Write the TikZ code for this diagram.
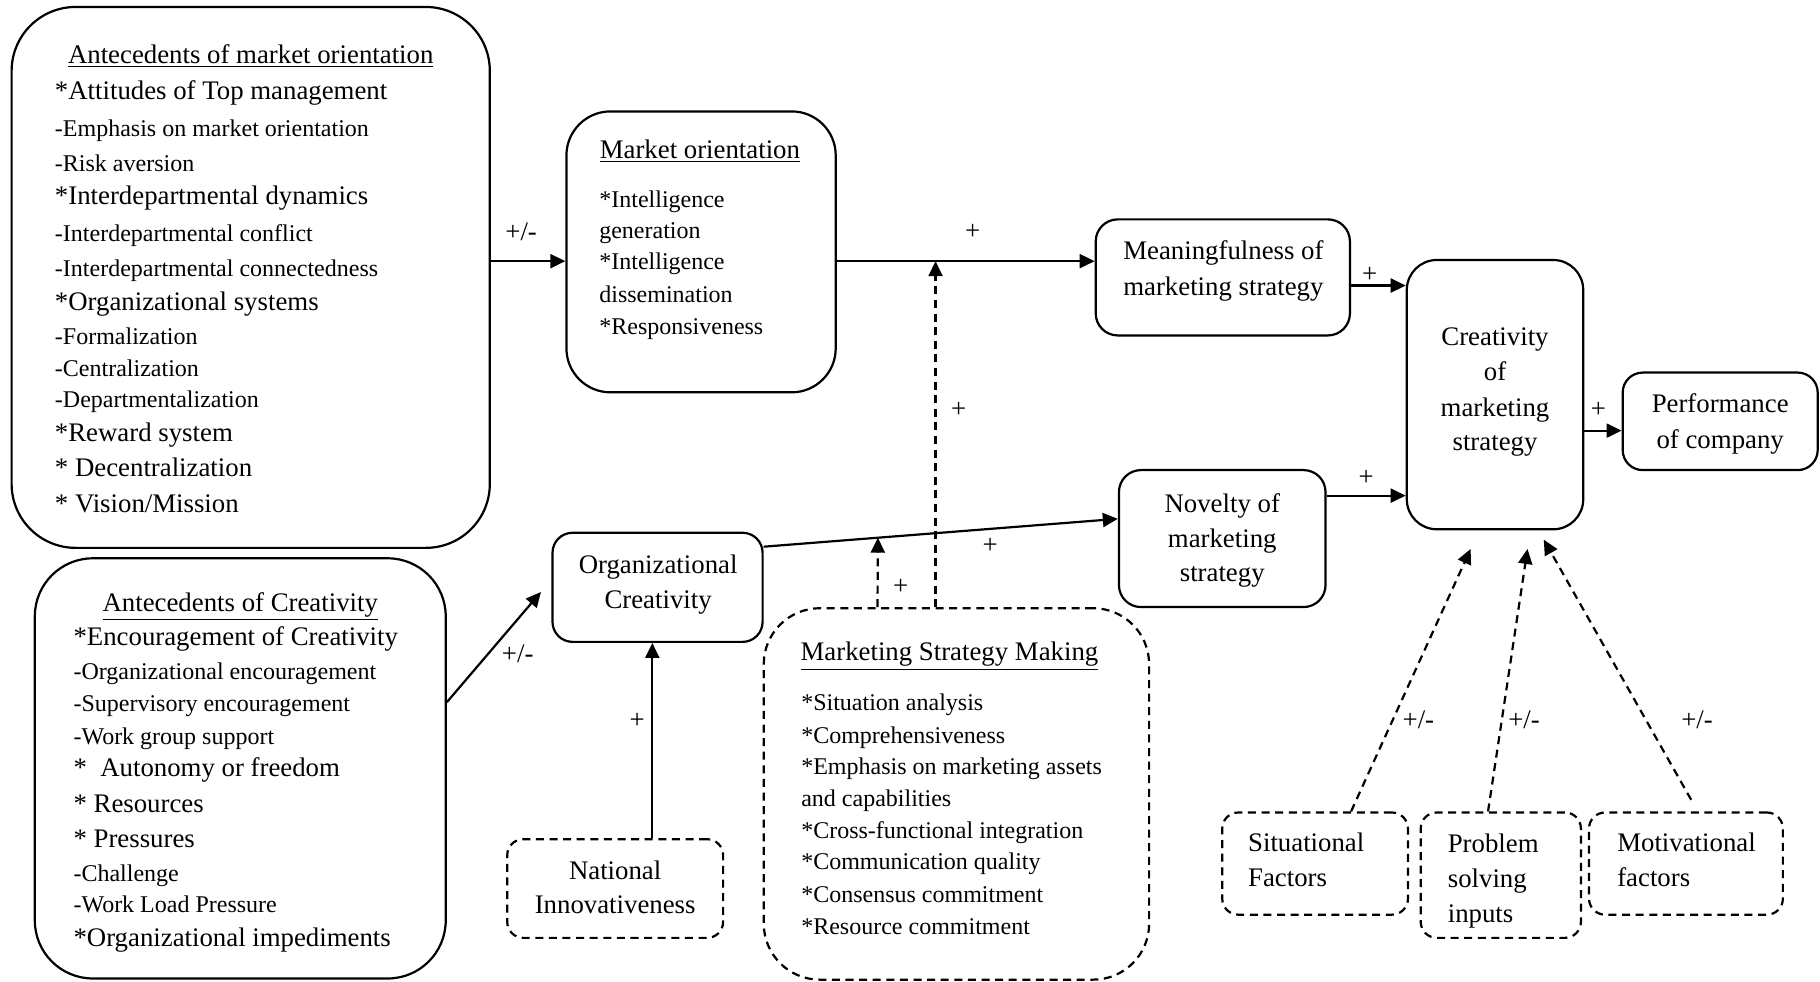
\documentclass[tikz,border=0pt]{standalone}
\usepackage{fontspec}
\setmainfont{Liberation Serif}
\usetikzlibrary{arrows.meta,fit,calc}
\begin{document}
\begin{tikzpicture}[x=0.58035pt,y=-0.58035pt,
  box/.style={draw, line width=1.1pt, inner sep=0pt},
  dbox/.style={box, dash pattern=on 4pt off 2.8pt},
  arr/.style={line width=1.1pt, -{Triangle[length=7.5pt,width=7pt]}},
  darr/.style={arr, dash pattern=on 4pt off 2.8pt},
  big/.style={font=\fontsize{13.4}{16}\selectfont},
  small/.style={font=\fontsize{12}{14}\selectfont},
  L/.style={inner sep=0pt, anchor=base west, yshift=-4.3pt},
  C/.style={inner sep=0pt, anchor=base, yshift=-4.3pt},
  lab/.style={inner sep=0pt, font=\fontsize{13.4}{16}\selectfont}
]
\useasboundingbox (0,0) rectangle (1568,846);

% ---------- boxes ----------
\node[box, rounded corners=32pt, fit={(10,6) (422,472)}] (A) {};
\node[box, rounded corners=29pt, fit={(30,481) (384,843)}] (B) {};
\node[box, rounded corners=22pt, fit={(488,96) (720,338)}] (MO) {};
\node[box, rounded corners=11pt, fit={(944,189) (1163,289)}] (MF) {};
\node[box, rounded corners=15pt, fit={(1212,224) (1364,456)}] (CR) {};
\node[box, rounded corners=11pt, fit={(964,405) (1142,523)}] (NV) {};
\node[box, rounded corners=10pt, fit={(1398,321) (1566,405)}] (PF) {};
\node[box, rounded corners=10pt, fit={(476,459) (657,553)}] (OC) {};
\node[dbox, rounded corners=8pt, fit={(437,723) (623,808)}] (NI) {};
\node[dbox, rounded corners=28pt, fit={(658,524) (990,844)}] (MSM) {};
\node[dbox, rounded corners=8pt, fit={(1053,700) (1213,788)}] (SF) {};
\node[dbox, rounded corners=8pt, fit={(1224,700) (1362,808)}] (PS) {};
\node[dbox, rounded corners=8pt, fit={(1369,700) (1536,788)}] (MV) {};

% ---------- texts: antecedents of market orientation ----------
\node[C,big] (At) at (216,47) {\underline{Antecedents of market orientation}};
\node[L,big]   (A1)  at (47,78)  {*Attitudes of Top management};
\node[L,small] (A2)  at (47,110) {-Emphasis on market orientation};
\node[L,small] (A3)  at (47,140) {-Risk aversion};
\node[L,big]   (A4)  at (47,169) {*Interdepartmental dynamics};
\node[L,small] (A5)  at (47,201) {-Interdepartmental conflict};
\node[L,small] (A6)  at (47,231) {-Interdepartmental connectedness};
\node[L,big]   (A7)  at (47,260) {*Organizational systems};
\node[L,small] (A8)  at (47,289) {-Formalization};
\node[L,small] (A9)  at (47,317) {-Centralization};
\node[L,small] (A10) at (47,344) {-Departmentalization};
\node[L,big]   (A11) at (47,373) {*Reward system};
\node[L,big]   (A12) at (47,403) {* Decentralization};
\node[L,big]   (A13) at (47,434) {* Vision/Mission};

% ---------- texts: antecedents of creativity ----------
\node[C,big] (Bt) at (207,519) {\underline{Antecedents of Creativity}};
\node[L,big]   (B1)  at (63,549) {*Encouragement of Creativity};
\node[L,small] (B2)  at (63,578) {-Organizational encouragement};
\node[L,small] (B3)  at (63,606) {-Supervisory encouragement};
\node[L,small] (B4)  at (63,634) {-Work group support};
\node[L,big]   (B5)  at (63,662) {*\ \ Autonomy or freedom};
\node[L,big]   (B6)  at (63,693) {* Resources};
\node[L,big]   (B7)  at (63,723) {* Pressures};
\node[L,small] (B8)  at (63,752) {-Challenge};
\node[L,small] (B9)  at (63,779) {-Work Load Pressure};
\node[L,big]   (B10) at (63,808) {*Organizational impediments};

% ---------- texts: market orientation ----------
\node[C,big] (MOt) at (603,129) {\underline{Market orientation}};
\node[L,small] (MO1) at (516,171) {*Intelligence};
\node[L,small] (MO2) at (516,198) {generation};
\node[L,small] (MO3) at (516,225) {*Intelligence};
\node[L,small] (MO4) at (516,253) {dissemination};
\node[L,small] (MO5) at (516,281) {*Responsiveness};

% ---------- texts: marketing strategy making ----------
\node[C,big] (Mt) at (818,562) {\underline{Marketing Strategy Making}};
\node[L,small] (M1) at (690,605) {*Situation analysis};
\node[L,small] (M2) at (690,633) {*Comprehensiveness};
\node[L,small] (M3) at (690,660) {*Emphasis on marketing assets};
\node[L,small] (M4) at (690,687) {and capabilities};
\node[L,small] (M5) at (690,715) {*Cross-functional integration};
\node[L,small] (M6) at (690,742) {*Communication quality};
\node[L,small] (M7) at (690,770) {*Consensus commitment};
\node[L,small] (M8) at (690,798) {*Resource commitment};

% ---------- texts: other boxes ----------
\node[C,big] (MF1) at (1054,216) {Meaningfulness of};
\node[C,big] (MF2) at (1054,247) {marketing strategy};
\node[C,big] (CR1) at (1288,290) {Creativity};
\node[C,big] (CR2) at (1288,320) {of};
\node[C,big] (CR3) at (1288,351) {marketing};
\node[C,big] (CR4) at (1288,381) {strategy};
\node[C,big] (NV1) at (1053,434) {Novelty of};
\node[C,big] (NV2) at (1053,464) {marketing};
\node[C,big] (NV3) at (1053,494) {strategy};
\node[C,big] (PF1) at (1482,348) {Performance};
\node[C,big] (PF2) at (1482,379) {of company};
\node[C,big] (OC1) at (567,487) {Organizational};
\node[C,big] (OC2) at (567,517) {Creativity};
\node[C,big] (NI1) at (530,750) {National};
\node[C,big] (NI2) at (530,780) {Innovativeness};
\node[L,big] (SF1) at (1075,726) {Situational};
\node[L,big] (SF2) at (1075,756) {Factors};
\node[L,big] (PS1) at (1247,727) {Problem};
\node[L,big] (PS2) at (1247,757) {solving};
\node[L,big] (PS3) at (1247,787) {inputs};
\node[L,big] (MV1) at (1393,726) {Motivational};
\node[L,big] (MV2) at (1393,756) {factors};

% ---------- helper levels ----------
\coordinate (h225) at (0,225);
\coordinate (h246) at (0,246);
\coordinate (h427) at (0,427);
\coordinate (h371) at (0,371);
\coordinate (h471) at (0,471);
\coordinate (h447) at (0,447);
\coordinate (h605) at (0,605);
\coordinate (h510) at (0,510);
\coordinate (v562) at (562,0);
\coordinate (v806) at (806,0);
\coordinate (v756) at (756,0);

% ---------- connectors ----------
\draw[arr] (A.east |- h225) -- (MO.west |- h225);
\draw[arr] (MO.east |- h225) -- (MF.west |- h225);
\draw[arr] (MF.east |- h246) -- (CR.west |- h246);
\draw[arr] (NV.east |- h427) -- (CR.west |- h427);
\draw[arr] (CR.east |- h371) -- (PF.west |- h371);
\draw[arr] (OC.east |- h471) -- coordinate[pos=0.3225] (ocnv) (NV.west |- h447);
\draw[arr] (B.east |- h605) -- ($(OC.west |- h510)+(-9,0)$);
\draw[arr] (NI.north -| v562) -- (OC.south -| v562);
\draw[darr] (MSM.north -| v806) -- (v806 |- h225);
\draw[darr] (MSM.north -| v756) -- (ocnv);
\draw[darr] ($(SF.north)+(31,0)$) -- ($(CR.south)+(-21,16)$);
\draw[darr] ($(PS.north)+(-11,0)$) -- ($(CR.south)+(28,16)$);
\draw[darr] ($(MV.north)+(4.5,-10)$) -- ($(CR.south)+(42,8)$);

% ---------- connector labels ----------
\node[lab] (l1) at (449,200) {+/-};
\node[lab] (l2) at (838,200) {+};
\node[lab] (l3) at (1180,237) {+};
\node[lab] (l4) at (1177,412) {+};
\node[lab] (l5) at (1377,353) {+};
\node[lab] (l6) at (853,470) {+};
\node[lab] (l7) at (446,563) {+/-};
\node[lab] (l8) at (549,621) {+};
\node[lab] (l9) at (826,353) {+};
\node[lab] (l10) at (776,506) {+};
\node[lab] (l11) at (1222,620) {+/-};
\node[lab] (l12) at (1313,620) {+/-};
\node[lab] (l13) at (1462,620) {+/-};
\end{tikzpicture}
\end{document}
